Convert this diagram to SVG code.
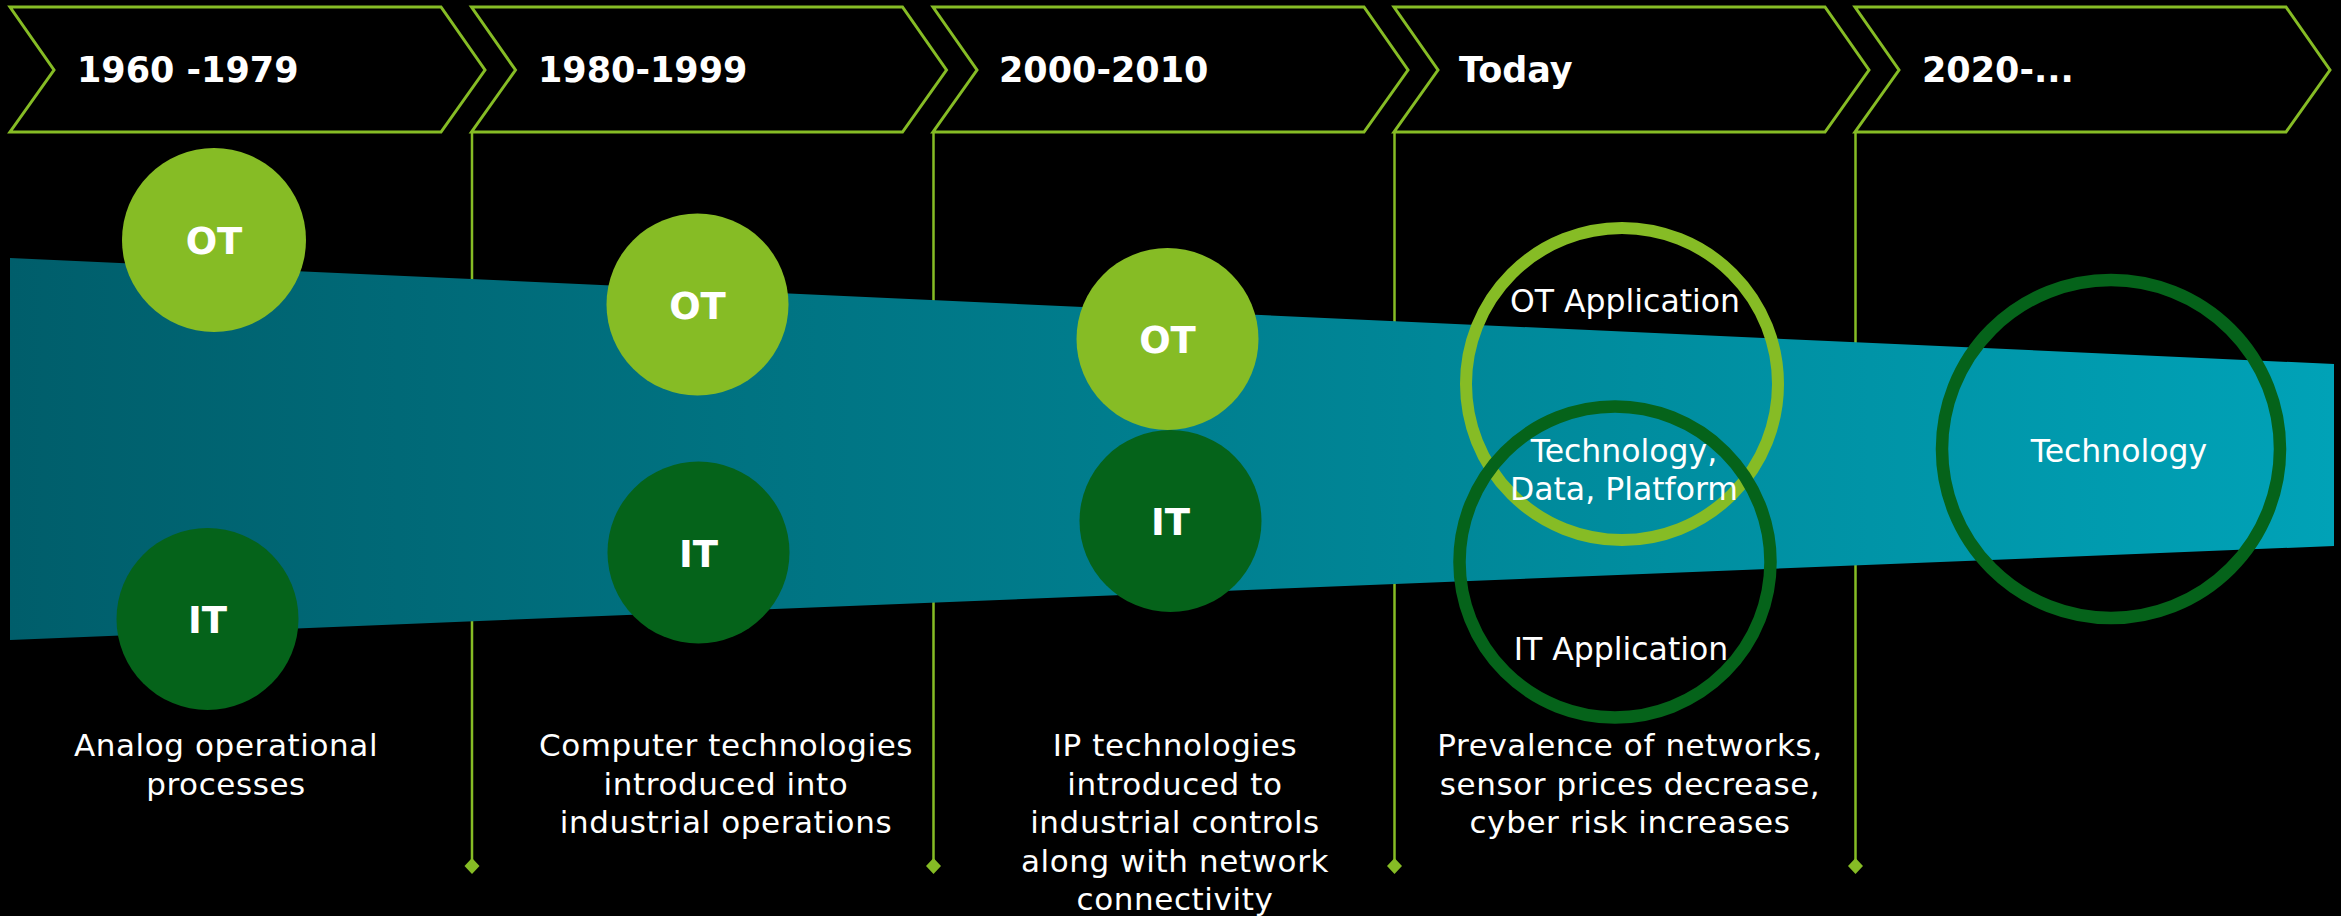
<svg xmlns="http://www.w3.org/2000/svg" width="2341" height="916" viewBox="0 0 2341 916">
<defs>
<linearGradient id="band" x1="10" y1="0" x2="2334" y2="0" gradientUnits="userSpaceOnUse">
<stop offset="0" stop-color="#005E6B"/>
<stop offset="0.5" stop-color="#007F8F"/>
<stop offset="1" stop-color="#00A2B7"/>
</linearGradient>
<style>
.chev{fill:#000;stroke:#86BC25;stroke-width:3;stroke-linejoin:miter}
.hdr{font-family:"DejaVu Sans",Verdana,sans-serif;font-weight:bold;font-size:35px;fill:#fff}
.vl{stroke:#86BC25;stroke-width:2.5;fill:none}
.dm{fill:#86BC25}
.ot{fill:#86BC25}
.it{fill:#05631A}
.lbl{font-family:"DejaVu Sans",Verdana,sans-serif;font-weight:bold;font-size:37px;fill:#fff;text-anchor:middle}
.txt{font-family:"DejaVu Sans",Verdana,sans-serif;font-size:31px;letter-spacing:0.6px;fill:#fff;text-anchor:middle}
.rtx{font-family:"DejaVu Sans",Verdana,sans-serif;font-size:31.5px;fill:#fff;text-anchor:middle}
.ring-ot{fill:none;stroke:#86BC25;stroke-width:12}
.ring-it{fill:none;stroke:#05631A;stroke-width:12.5}
</style>
</defs>
<rect x="0" y="0" width="2341" height="916" fill="#000"/>

<g id="chevron-1960">
<path class="chev" d="M10,7 L441,7 L485,70 L441,132 L10,132 L54,70 Z"/>
<text class="hdr" x="77" y="82">1960 -1979</text>
</g>
<g id="chevron-1980">
<path class="chev" d="M471.5,7 L902.5,7 L946.5,70 L902.5,132 L471.5,132 L515.5,70 Z"/>
<text class="hdr" x="538" y="82">1980-1999</text>
</g>
<g id="chevron-2000">
<path class="chev" d="M933,7 L1364,7 L1408,70 L1364,132 L933,132 L977,70 Z"/>
<text class="hdr" x="999" y="82">2000-2010</text>
</g>
<g id="chevron-today">
<path class="chev" d="M1394,7 L1825,7 L1869,70 L1825,132 L1394,132 L1438,70 Z"/>
<text class="hdr" x="1459" y="82">Today</text>
</g>
<g id="chevron-2020">
<path class="chev" d="M1855,7 L2286,7 L2330,70 L2286,132 L1855,132 L1899,70 Z"/>
<text class="hdr" x="1922" y="82">2020-...</text>
</g>

<g id="connectors">
<line class="vl" x1="472" y1="132" x2="472" y2="866"/>
<path class="dm" d="M472,858 L479.5,866 L472,874 L464.5,866 Z"/>
<line class="vl" x1="933.5" y1="132" x2="933.5" y2="866"/>
<path class="dm" d="M933.5,858 L941,866 L933.5,874 L926,866 Z"/>
<line class="vl" x1="1394.5" y1="132" x2="1394.5" y2="866"/>
<path class="dm" d="M1394.5,858 L1402,866 L1394.5,874 L1387,866 Z"/>
<line class="vl" x1="1855.5" y1="132" x2="1855.5" y2="866"/>
<path class="dm" d="M1855.5,858 L1863,866 L1855.5,874 L1848,866 Z"/>
</g>

<g id="band">
<polygon points="10,258 2334,364 2334,546 10,640" fill="url(#band)"/>
</g>

<g id="era-1960">
<circle class="ot" cx="214" cy="240" r="92"/>
<text class="lbl" x="214" y="254">OT</text>
<circle class="it" cx="207.5" cy="619" r="91"/>
<text class="lbl" x="207.5" y="633">IT</text>
<text class="txt" x="226" y="756">Analog operational</text>
<text class="txt" x="226" y="794.5">processes</text>
</g>

<g id="era-1980">
<circle class="ot" cx="697.5" cy="304.5" r="91"/>
<text class="lbl" x="697.5" y="318.5">OT</text>
<circle class="it" cx="698.5" cy="552.5" r="91"/>
<text class="lbl" x="698.5" y="566.5">IT</text>
<text class="txt" x="726" y="756">Computer technologies</text>
<text class="txt" x="726" y="794.5">introduced into</text>
<text class="txt" x="726" y="833">industrial operations</text>
</g>

<g id="era-2000">
<circle class="ot" cx="1167.5" cy="339" r="91"/>
<text class="lbl" x="1167.5" y="353">OT</text>
<circle class="it" cx="1170.5" cy="521" r="91"/>
<text class="lbl" x="1170.5" y="535">IT</text>
<text class="txt" x="1175" y="756">IP technologies</text>
<text class="txt" x="1175" y="794.5">introduced to</text>
<text class="txt" x="1175" y="833">industrial controls</text>
<text class="txt" x="1175" y="871.5">along with network</text>
<text class="txt" x="1175" y="910">connectivity</text>
</g>

<g id="era-today">
<circle class="ring-ot" cx="1622" cy="384" r="156"/>
<circle class="ring-it" cx="1615" cy="562" r="155.5"/>
<text class="rtx" x="1625" y="312">OT Application</text>
<text class="rtx" x="1624" y="461.5">Technology,</text>
<text class="rtx" x="1624" y="500">Data, Platform</text>
<text class="rtx" x="1621" y="660">IT Application</text>
<text class="txt" x="1630" y="756">Prevalence of networks,</text>
<text class="txt" x="1630" y="794.5">sensor prices decrease,</text>
<text class="txt" x="1630" y="833">cyber risk increases</text>
</g>

<g id="era-2020">
<circle class="ring-it" cx="2111" cy="449" r="169"/>
<text class="rtx" x="2119" y="461.5">Technology</text>
</g>
</svg>
